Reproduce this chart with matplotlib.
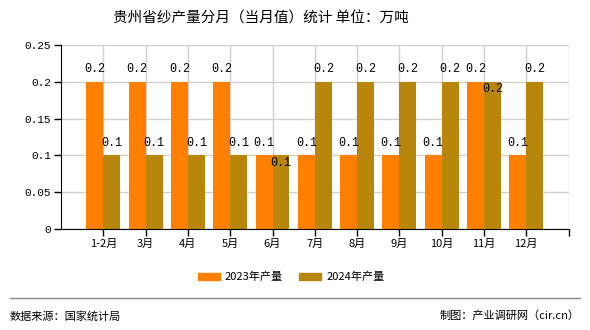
import numpy as np
import matplotlib.pyplot as plt
from matplotlib.lines import Line2D

plt.rcParams['font.family'] = ['Noto Sans CJK SC', 'DejaVu Sans']

months = ['1-2月', '3月', '4月', '5月', '6月', '7月', '8月', '9月', '10月', '11月', '12月']
prod_2023 = [0.2, 0.2, 0.2, 0.2, 0.1, 0.1, 0.1, 0.1, 0.1, 0.2, 0.1]
prod_2024 = [0.1, 0.1, 0.1, 0.1, 0.1, 0.2, 0.2, 0.2, 0.2, 0.2, 0.2]
yticks = [0, 0.05, 0.1, 0.15, 0.2, 0.25]
ytick_labels = ['0', '0.05', '0.1', '0.15', '0.2', '0.25']

c23 = '#ff8000'
c24 = '#b8860b'
mono = ['Liberation Mono', 'DejaVu Sans Mono']

fig = plt.figure(figsize=(5.9, 3.3), dpi=100)
ax = fig.add_axes([61 / 590, 1 - 229 / 330, 507.6 / 590, 184 / 330])

x = np.arange(1, len(months) + 1)
w = 0.4
ax.bar(x - w / 2, prod_2023, w, color=c23, zorder=2)
ax.bar(x + w / 2, prod_2024, w, color=c24, zorder=2)

# value labels; the 2024 label drops inside the bar when it would overlap
for i in range(len(months)):
    ax.text(x[i] - w / 2, prod_2023[i] + 0.017, f'{prod_2023[i]:.1f}', ha='center', va='center',
            fontsize=8.5, family=mono, zorder=3)
    if prod_2024[i] == prod_2023[i]:
        ty = prod_2024[i] - 0.01
    else:
        ty = prod_2024[i] + 0.017
    ax.text(x[i] + w / 2, ty, f'{prod_2024[i]:.1f}', ha='center', va='center',
            fontsize=8.5, family=mono, zorder=3)

ax.set_xlim(0, 12)
ax.set_ylim(0, 0.25)
ax.set_xticks(list(x) + [12])
ax.set_xticklabels(months + [''], fontsize=8)
ax.set_yticks(yticks)
ax.set_yticklabels(ytick_labels, fontsize=8, family=mono)
ax.grid(True, color='#d0d0d0', linewidth=1, zorder=0)
ax.spines['top'].set_visible(False)
ax.spines['right'].set_visible(False)
ax.tick_params(axis='both', length=5, width=1, color='black', pad=2)

handles = [plt.Rectangle((0, 0), 1, 1, color=c23), plt.Rectangle((0, 0), 1, 1, color=c24)]
fig.legend(handles, ['2023年产量', '2024年产量'], loc='center', bbox_to_anchor=(291 / 590, 1 - 277 / 330),
           ncol=2, frameon=False, fontsize=8, handlelength=2.0, handleheight=0.65,
           handletextpad=0.45, columnspacing=1.45)

fig.text(261 / 590, 1 - 18 / 330, '贵州省纱产量分月（当月值）统计 单位：万吨', ha='center', va='center', fontsize=10.5)
fig.add_artist(Line2D([10 / 590, 580 / 590], [1 - 298 / 330, 1 - 298 / 330], color='#888888', linewidth=1))
fig.text(10 / 590, 1 - 316 / 330, '数据来源：国家统计局', ha='left', va='center', fontsize=8)
fig.text(580 / 590, 1 - 316 / 330, '制图：产业调研网（cir.cn）', ha='right', va='center', fontsize=8)

fig.savefig('out.png', dpi=100)
